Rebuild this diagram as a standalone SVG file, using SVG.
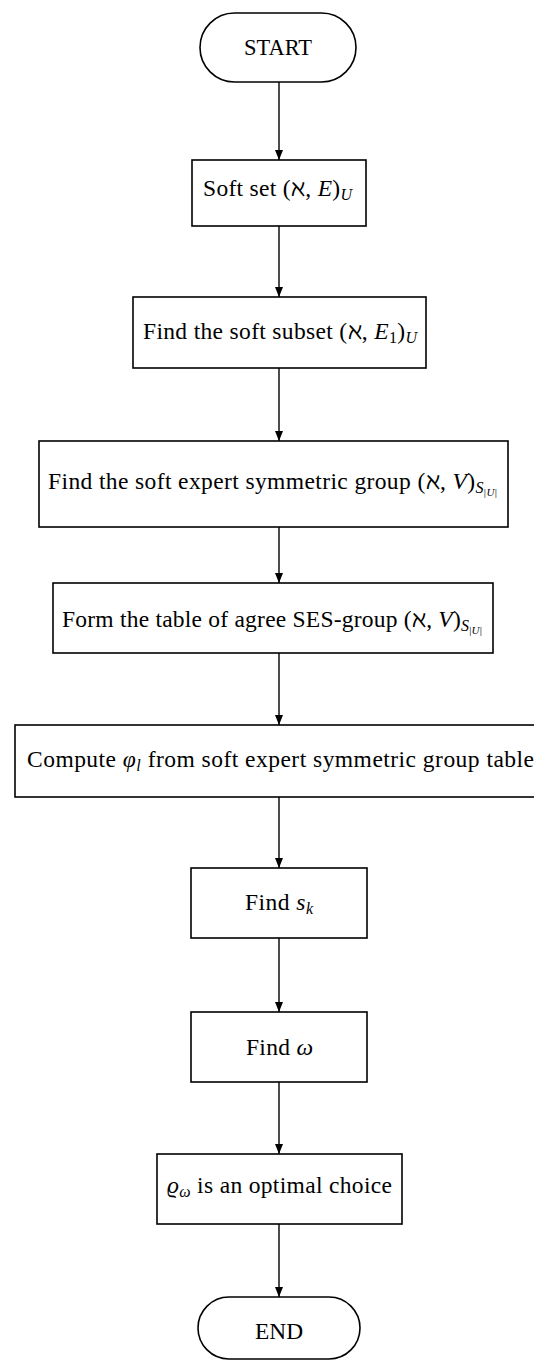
<svg xmlns="http://www.w3.org/2000/svg" width="534" height="1360" viewBox="0 0 534 1360">
  <style>
    .box { fill: #ffffff; stroke: #000000; stroke-width: 1.6; }
    .edge { fill: none; stroke: #000000; stroke-width: 1.4; marker-end: url(#arrow); }
    text { font-family: "Liberation Serif", "DejaVu Serif", serif; font-size: 23.5px; fill: #000000; }
    .i { font-style: italic; }
    .sub { font-size: 16px; }
    .subsub { font-size: 11px; }
  </style>
  <defs>
    <marker id="arrow" markerUnits="userSpaceOnUse" markerWidth="10" markerHeight="8" refX="10" refY="4" orient="auto">
      <path d="M0,0 L10,4 L0,8 z" fill="#000000"/>
    </marker>
  </defs>

  <!-- connectors -->
  <g id="connectors">
    <line class="edge" x1="279" y1="82" x2="279" y2="160"/>
    <line class="edge" x1="279" y1="226" x2="279" y2="297"/>
    <line class="edge" x1="279" y1="368" x2="279" y2="441"/>
    <line class="edge" x1="279" y1="527" x2="279" y2="583"/>
    <line class="edge" x1="279" y1="653" x2="279" y2="725"/>
    <line class="edge" x1="279" y1="797" x2="279" y2="868"/>
    <line class="edge" x1="279" y1="938" x2="279" y2="1012"/>
    <line class="edge" x1="279" y1="1082" x2="279" y2="1154"/>
    <line class="edge" x1="279" y1="1224" x2="279" y2="1297"/>
  </g>

  <g id="start">
    <rect class="box" x="200" y="13" width="156" height="69" rx="34.5" ry="34.5"/>
    <text x="244" y="55" textLength="68" lengthAdjust="spacingAndGlyphs">START</text>
  </g>

  <g id="soft-set">
    <rect class="box" x="192" y="160" width="174" height="66"/>
    <text x="203" y="196" textLength="149">Soft set (ℵ, <tspan class="i">E</tspan>)<tspan class="i sub" dy="4">U</tspan></text>
  </g>

  <g id="soft-subset">
    <rect class="box" x="133" y="297" width="293" height="71"/>
    <text x="143" y="339" textLength="274">Find the soft subset (ℵ, <tspan class="i">E</tspan><tspan class="sub" dy="4">1</tspan><tspan dy="-4">)</tspan><tspan class="i sub" dy="4">U</tspan></text>
  </g>

  <g id="ses-group">
    <rect class="box" x="39" y="441" width="469" height="86"/>
    <text x="48" y="489" textLength="449">Find the soft expert symmetric group (ℵ, <tspan class="i">V</tspan>)<tspan class="i sub" dy="4">S</tspan><tspan class="subsub" dy="3">|<tspan class="i">U</tspan>|</tspan></text>
  </g>

  <g id="agree-table">
    <rect class="box" x="53" y="583" width="440" height="70"/>
    <text x="62" y="627" textLength="420">Form the table of agree SES-group (ℵ, <tspan class="i">V</tspan>)<tspan class="i sub" dy="4">S</tspan><tspan class="subsub" dy="3">|<tspan class="i">U</tspan>|</tspan></text>
  </g>

  <g id="compute-phi">
    <rect class="box" x="15" y="725" width="528" height="72"/>
    <text x="27" y="767" textLength="507">Compute <tspan class="i">φ</tspan><tspan class="i sub" dy="4">l</tspan><tspan dy="-4"> from soft expert symmetric group table</tspan></text>
  </g>

  <g id="find-sk">
    <rect class="box" x="191" y="868" width="176" height="70"/>
    <text x="245" y="910" textLength="68">Find <tspan class="i">s</tspan><tspan class="i sub" dy="4">k</tspan></text>
  </g>

  <g id="find-omega">
    <rect class="box" x="191" y="1012" width="176" height="70"/>
    <text x="246" y="1055" textLength="67">Find <tspan class="i">ω</tspan></text>
  </g>

  <g id="optimal-choice">
    <rect class="box" x="157" y="1154" width="245" height="70"/>
    <text x="167" y="1193" textLength="225"><tspan class="i">ϱ</tspan><tspan class="i sub" dy="4">ω</tspan><tspan dy="-4"> is an optimal choice</tspan></text>
  </g>

  <g id="end">
    <rect class="box" x="198" y="1297" width="162" height="62" rx="31" ry="31"/>
    <text x="255" y="1339" textLength="48" lengthAdjust="spacingAndGlyphs">END</text>
  </g>
</svg>
